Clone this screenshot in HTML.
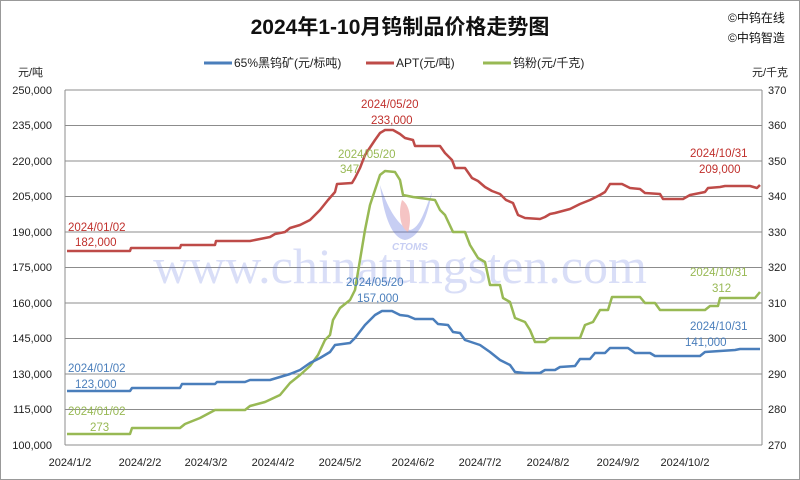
<!DOCTYPE html>
<html><head><meta charset="utf-8"><style>
html,body{margin:0;padding:0;background:#fff}
svg{display:block;font-family:"Liberation Sans","Noto Sans CJK SC",sans-serif}
</style></head><body>
<svg width="800" height="480" viewBox="0 0 800 480" xmlns="http://www.w3.org/2000/svg">
<rect x="0.5" y="0.5" width="799" height="479" fill="#fff" stroke="#999"/>
<text x="400" y="34" text-anchor="middle" font-size="21" font-weight="bold" fill="#111">2024年1-10月钨制品价格走势图</text>
<text x="728" y="22" font-size="12" fill="#111">©中钨在线</text>
<text x="728" y="42" font-size="12" fill="#111">©中钨智造</text>
<g font-size="12" fill="#222">
<line x1="204" y1="63" x2="232" y2="63" stroke="#4a7ebb" stroke-width="3"/><text x="234" y="67">65%黑钨矿(元/标吨)</text>
<line x1="366" y1="63" x2="394" y2="63" stroke="#be4b48" stroke-width="3"/><text x="396" y="67">APT(元/吨)</text>
<line x1="483" y1="63" x2="511" y2="63" stroke="#98b954" stroke-width="3"/><text x="513" y="67">钨粉(元/千克)</text>
</g>
<text x="18" y="76" font-size="11" fill="#222">元/吨</text>
<text x="752" y="76" font-size="11" fill="#222">元/千克</text>
<g stroke="#8c8c8c" stroke-width="1">
<line x1="65" y1="90" x2="762" y2="90"/><line x1="65" y1="125.5" x2="762" y2="125.5"/><line x1="65" y1="161" x2="762" y2="161"/><line x1="65" y1="196.5" x2="762" y2="196.5"/><line x1="65" y1="232" x2="762" y2="232"/><line x1="65" y1="267.5" x2="762" y2="267.5"/><line x1="65" y1="303" x2="762" y2="303"/><line x1="65" y1="338.5" x2="762" y2="338.5"/><line x1="65" y1="374" x2="762" y2="374"/><line x1="65" y1="409.5" x2="762" y2="409.5"/><line x1="65" y1="445" x2="762" y2="445"/>
<line x1="65" y1="90" x2="65" y2="445"/><line x1="762" y1="90" x2="762" y2="445"/>
</g>
<g font-size="11" fill="#222" text-anchor="end">
<text x="52" y="94">250,000</text><text x="52" y="129">235,000</text><text x="52" y="165">220,000</text><text x="52" y="200">205,000</text><text x="52" y="236">190,000</text><text x="52" y="271">175,000</text><text x="52" y="307">160,000</text><text x="52" y="342">145,000</text><text x="52" y="378">130,000</text><text x="52" y="413">115,000</text><text x="52" y="449">100,000</text>
</g>
<g font-size="11" fill="#222">
<text x="768" y="94">370</text><text x="768" y="129">360</text><text x="768" y="165">350</text><text x="768" y="200">340</text><text x="768" y="236">330</text><text x="768" y="271">320</text><text x="768" y="307">310</text><text x="768" y="342">300</text><text x="768" y="378">290</text><text x="768" y="413">280</text><text x="768" y="449">270</text>
</g>
<g font-size="11" fill="#222" text-anchor="middle">
<text x="70" y="466">2024/1/2</text><text x="140" y="466">2024/2/2</text><text x="206" y="466">2024/3/2</text><text x="273" y="466">2024/4/2</text><text x="340" y="466">2024/5/2</text><text x="413" y="466">2024/6/2</text><text x="480" y="466">2024/7/2</text><text x="548" y="466">2024/8/2</text><text x="618" y="466">2024/9/2</text><text x="685" y="466">2024/10/2</text>
</g>
<g opacity="0.3">
<path d="M380,185 C385,200 395,225 410,230 C420,228 425,210 432,192 C428,215 420,238 405,240 C390,238 383,210 380,185Z" fill="#4a5fd8"/>
<path d="M402,200 C410,205 412,220 408,232 C400,228 398,212 402,200Z" fill="#e04040"/>
<text x="410" y="250" text-anchor="middle" font-size="10" font-weight="bold" font-style="italic" fill="#4a5fd8">CTOMS</text>
</g>
<text x="400" y="283" text-anchor="middle" font-family="Liberation Serif,serif" font-size="50" fill="#6a7ee0" opacity="0.25">www.chinatungsten.com</text>
<g fill="none" stroke-width="2.5" stroke-linejoin="round">
<polyline stroke="#be4b48" points="67,251 130,251 131,248 180,248 181,245 215,245 216,241 250,241 260,239 270,237 275,234 285,232 290,228 300,225 310,220 320,210 328,200 335,192 337,184 352,183 355,178 360,168 365,155 375,140 380,133 385,130 393,130 400,134 405,138 413,140 415,146 440,146 445,153 452,160 455,168 465,168 472,178 478,181 485,187 492,191 500,194 506,200 513,203 518,215 525,218 540,219 545,217 550,214 555,213 570,209 580,204 590,200 600,195 605,192 610,184 622,184 630,188 640,189 645,193 660,194 663,199 683,199 690,195 705,192 708,188 720,187 725,186 750,186 757,188 760,185"/>
<polyline stroke="#98b954" points="67,434 130,434 132,428 180,428 185,424 200,418 215,410 245,410 250,406 265,402 280,395 290,383 300,375 310,366 318,355 325,340 330,335 333,320 340,308 350,300 355,290 360,260 365,230 370,205 375,190 380,175 385,171 395,172 400,180 403,195 413,197 435,200 440,210 445,215 453,232 465,232 470,245 478,258 485,262 490,285 500,285 503,298 510,302 515,318 525,322 530,330 535,342 545,342 550,338 580,338 585,325 593,322 600,310 608,310 612,297 640,297 645,303 655,303 660,310 705,310 710,306 718,306 720,298 755,298 760,292"/>
<polyline stroke="#4a7ebb" points="67,391 130,391 132,388 180,388 182,384 215,384 217,382 245,382 250,380 270,380 280,377 290,374 300,370 310,363 320,358 330,352 335,345 350,343 355,338 365,325 375,315 382,311 392,311 400,315 408,316 415,319 433,319 438,324 448,325 453,332 460,333 465,340 480,345 490,352 500,360 510,365 515,372 525,373 540,373 545,370 555,370 560,367 575,366 580,359 590,359 595,353 605,353 610,348 628,348 635,353 650,353 655,356 700,356 705,352 735,350 740,349 760,349"/>
</g>
<g font-size="11.5">
<g fill="#c0302c"><text x="68" y="231">2024/01/02</text><text x="75" y="246">182,000</text>
<text x="361" y="108">2024/05/20</text><text x="371" y="124">233,000</text>
<text x="690" y="157">2024/10/31</text><text x="699" y="173">209,000</text></g>
<g fill="#98b954"><text x="338" y="158">2024/05/20</text><text x="340" y="173">347</text>
<text x="690" y="276">2024/10/31</text><text x="712" y="292">312</text>
<text x="68" y="415">2024/01/02</text><text x="90" y="431">273</text></g>
<g fill="#4a7ebb"><text x="346" y="286">2024/05/20</text><text x="357" y="302">157,000</text>
<text x="690" y="330">2024/10/31</text><text x="685" y="346">141,000</text>
<text x="68" y="372">2024/01/02</text><text x="75" y="388">123,000</text></g>
</g>
</svg>
</body></html>
